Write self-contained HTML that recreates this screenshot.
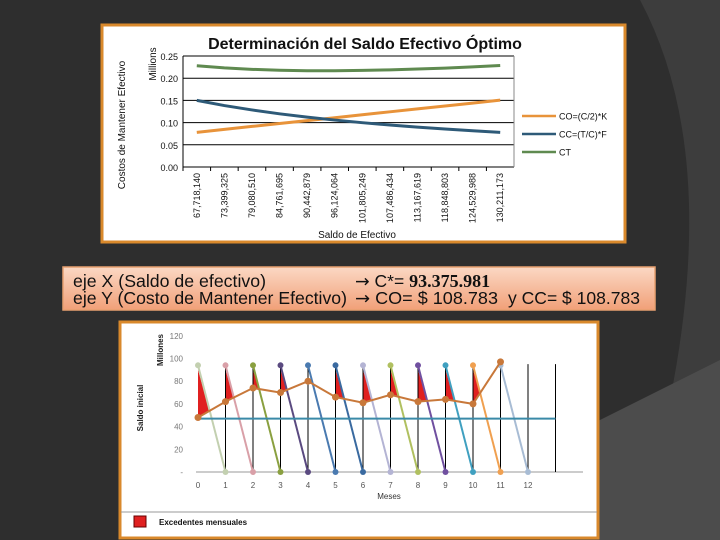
<!DOCTYPE html>
<html><head><meta charset="utf-8"><style>
body{margin:0;width:720px;height:540px;overflow:hidden;background:#2e2e2e;font-family:"Liberation Sans",sans-serif}
svg text{font-family:"Liberation Sans",sans-serif}
</style></head><body>
<svg width="720" height="540" style="position:absolute;left:0;top:0">
<path d="M640 0 Q720 150 670 400 L600 540 L720 540 L720 0 Z" fill="#3d3d3d"/>
<path d="M560 440 L720 360 L720 540 L540 540 Z" fill="#4c4c4c"/>
<rect x="102" y="25" width="523" height="217" fill="#fff" stroke="#d9892c" stroke-width="3"/>
<g id="topg"></g>
<defs><linearGradient id="og" x1="0" y1="0" x2="0" y2="1"><stop offset="0" stop-color="#fbd8c4"/><stop offset="1" stop-color="#f1a078"/></linearGradient></defs>
<rect x="63" y="267" width="592" height="43" fill="url(#og)" stroke="#e8a070" stroke-width="1.5"/>
<text x="73" y="287" font-size="17.5" fill="#111" textLength="193" lengthAdjust="spacingAndGlyphs">eje X (Saldo de efectivo)</text>
<text x="355" y="287" font-size="17.5" fill="#111"><tspan font-family="DejaVu Sans">→</tspan> C*= <tspan font-family="Liberation Serif" font-weight="bold" font-size="18">93.375.981</tspan></text>
<text x="73" y="304" font-size="17.5" fill="#111" textLength="274" lengthAdjust="spacingAndGlyphs">eje Y (Costo de Mantener Efectivo)</text>
<text x="355" y="304" font-size="17.5" fill="#111" textLength="143" lengthAdjust="spacingAndGlyphs"><tspan font-family="DejaVu Sans">→</tspan> CO= $ 108.783</text>
<text x="508" y="304" font-size="17.5" fill="#111" textLength="132" lengthAdjust="spacingAndGlyphs">y CC= $ 108.783</text>
<rect x="120" y="322" width="478" height="216" fill="#fff" stroke="#d9892c" stroke-width="3"/>
<g id="botg"></g>
</svg>
<script>
const cats=["67,718,140","73,399,325","79,080,510","84,761,695","90,442,879","96,124,064","101,805,249","107,486,434","113,167,619","118,848,803","124,529,988","130,211,173"];
const co=[0.078,0.0848,0.0914,0.098,0.1045,0.111,0.1177,0.1243,0.1308,0.1373,0.1439,0.1505];
const cc=[0.150,0.1384,0.1285,0.1198,0.1123,0.1057,0.0998,0.0945,0.0898,0.0855,0.0816,0.0780];
const ct=[0.228,0.2232,0.2199,0.2178,0.2168,0.2167,0.2175,0.2188,0.2206,0.2228,0.2255,0.2285];
const yTicks=["0.00","0.05","0.10","0.15","0.20","0.25"];
const months=[0,1,2,3,4,5,6,7,8,9,10,11,12];
const saldo=[48,62,74,70,80,66,61,68,62,64,60,97];
const minLine=47;
const peak=94;
const bTicks=["-","20","40","60","80","100","120"];
const NS="http://www.w3.org/2000/svg";
function mk(p,t,a){const e=document.createElementNS(NS,t);for(const k in a)e.setAttribute(k,a[k]);p.appendChild(e);return e;}
const tg=document.getElementById('topg');
const L=183,R=514,Y0=167,Y1=56;
const tx=i=>L+(R-L)/cats.length*(i+0.5);
const ty=v=>Y0-(v/0.25)*(Y0-Y1);
let t=mk(tg,'text',{x:365,y:49,'font-size':16,'font-weight':'bold','text-anchor':'middle',fill:'#111'});t.textContent='Determinación del Saldo Efectivo Óptimo';

yTicks.forEach((s,i)=>{const v=i*0.05,y=ty(v);
 const g=mk(tg,'line',{x1:L,x2:R,y1:y,y2:y,stroke:'#000','stroke-width':1});
 const l=mk(tg,'text',{x:178,y:y+4,'font-size':9,'text-anchor':'end',fill:'#111'});l.textContent=s;});
mk(tg,'line',{x1:L,x2:L,y1:Y1,y2:Y0,stroke:'#000'});
mk(tg,'line',{x1:R,x2:R,y1:Y1,y2:Y0,stroke:'#888'});
cats.forEach((c,i)=>{const x=tx(i);
 mk(tg,'line',{x1:L+(R-L)/12*i,x2:L+(R-L)/12*i,y1:Y0,y2:Y0+4,stroke:'#000'});
 const l=mk(tg,'text',{x:0,y:0,'font-size':9,'text-anchor':'end',fill:'#111',transform:`translate(${x+3},${Y0+6}) rotate(-90)`});l.textContent=c;
 });
[[co,'#e8933a','co-line'],[cc,'#2e5a78','cc-line'],[ct,'#5f8a50','ct-line']].forEach(([d,col,n])=>{
 const p=mk(tg,'polyline',{points:d.map((v,i)=>tx(i)+','+ty(v)).join(' '),fill:'none',stroke:col,'stroke-width':3});
 });
[['CO=(C/2)*K','#e8933a',116],['CC=(T/C)*F','#2e5a78',134],['CT','#5f8a50',152]].forEach(([s,c,y])=>{
 mk(tg,'line',{x1:522,x2:556,y1:y,y2:y,stroke:c,'stroke-width':2.5});
 const l=mk(tg,'text',{x:559,y:y+3.5,'font-size':9,fill:'#111'});l.textContent=s;});
t=mk(tg,'text',{x:357,y:238,'font-size':10,'text-anchor':'middle',fill:'#111'});t.textContent='Saldo de Efectivo';
t=mk(tg,'text',{x:0,y:0,'font-size':10,'text-anchor':'middle',fill:'#111',transform:'translate(125,125) rotate(-90)'});t.textContent='Costos de Mantener Efectivo';
t=mk(tg,'text',{x:0,y:0,'font-size':10,'text-anchor':'middle',fill:'#111',transform:'translate(156,64) rotate(-90)'});t.textContent='Millions';
const bg=document.getElementById('botg');
const bx=m=>198+27.5*m;
const by=v=>472-v/20*22.7;
bTicks.forEach((s,i)=>{const l=mk(bg,'text',{x:183,y:by(i*20)+3,'font-size':8,'text-anchor':'end',fill:'#777'});l.textContent=s;});
mk(bg,'line',{x1:196,x2:583,y1:by(0),y2:by(0),stroke:'#999'});
months.forEach(m=>{const l=mk(bg,'text',{x:bx(m),y:488,'font-size':8,'text-anchor':'middle',fill:'#555'});l.textContent=m;});
const cols=['#c3d0b0','#d9a0a8','#8aa040','#5a4a80','#4a7ab0','#3a6aa0','#b4b4d4','#b0c060','#7050a0','#40a0c0','#f0a050','#a8bcd4'];
for(let i=0;i<11;i++){const s0=saldo[i],s1=saldo[i+1];const tt=(peak-s0)/(peak+s1-s0);
 if(peak-s0<16)continue;
 const p=mk(bg,'polygon',{points:`${bx(i)},${by(peak-4)} ${bx(i)},${by(s0)} ${bx(i+tt)},${by(s0+(s1-s0)*tt)}`,fill:'#e02020'});
 }
for(let i=1;i<=13;i++){const v=mk(bg,'line',{x1:bx(i),x2:bx(i),y1:by(0),y2:by(peak+1),stroke:'#000','stroke-width':1});}
cols.forEach((c,i)=>{const d=mk(bg,'line',{x1:bx(i),y1:by(peak),x2:bx(i+1),y2:by(0),stroke:c,'stroke-width':2});
 
 mk(bg,'circle',{cx:bx(i),cy:by(peak),r:3,fill:c});mk(bg,'circle',{cx:bx(i+1),cy:by(0),r:3,fill:c});});
const ml=mk(bg,'line',{x1:bx(0),x2:bx(13),y1:by(minLine),y2:by(minLine),stroke:'#3a8aa8','stroke-width':2});
const sp=mk(bg,'polyline',{points:saldo.map((v,i)=>bx(i)+','+by(v)).join(' '),fill:'none',stroke:'#c8783a','stroke-width':2});

saldo.forEach((v,i)=>{const c=mk(bg,'circle',{cx:bx(i),cy:by(v),r:3.5,fill:'#c8783a'});});
t=mk(bg,'text',{x:389,y:499,'font-size':8,'text-anchor':'middle',fill:'#333'});t.textContent='Meses';
t=mk(bg,'text',{x:0,y:0,'font-size':8,'font-weight':'bold','text-anchor':'middle',fill:'#222',transform:'translate(143,408) rotate(-90)'});t.textContent='Saldo inicial';
t=mk(bg,'text',{x:0,y:0,'font-size':8,'font-weight':'bold','text-anchor':'middle',fill:'#222',transform:'translate(163,350) rotate(-90)'});t.textContent='Millones';
mk(bg,'line',{x1:121,x2:597,y1:512,y2:512,stroke:'#999'});
t=mk(bg,'rect',{x:134,y:516,width:12,height:11,fill:'#e02020',stroke:'#600'});
t=mk(bg,'text',{x:159,y:525,'font-size':8,'font-family':'Liberation Serif','font-weight':'bold',fill:'#111'});t.textContent='Excedentes mensuales';
</script>
</body></html>
